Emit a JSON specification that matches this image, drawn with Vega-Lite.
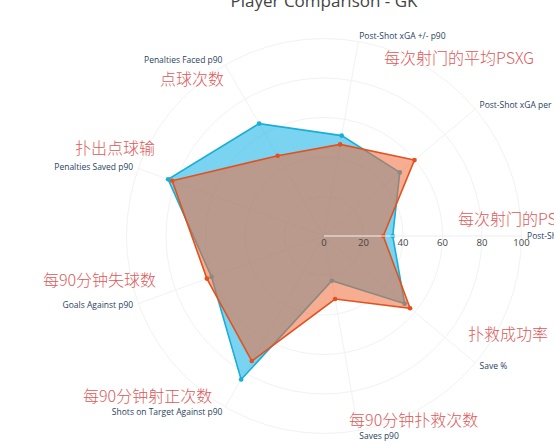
{
  "$schema": "https://vega.github.io/schema/vega-lite/v6.json",
  "width": 554,
  "height": 444,
  "padding": 0,
  "autosize": {"type": "none"},
  "background": "white",
  "config": {"view": {"stroke": null}, "font": "Open Sans"},
  "datasets": {
    "stats": [
      {"stat": "Post-Shot xGA p90", "k": 0, "player": "Player A", "value": 34.8},
      {"stat": "Post-Shot xGA per Shot", "k": 1, "player": "Player A", "value": 50.1},
      {"stat": "Post-Shot xGA +/- p90", "k": 2, "player": "Player A", "value": 51.6},
      {"stat": "Penalties Faced p90", "k": 3, "player": "Player A", "value": 65.7},
      {"stat": "Penalties Saved p90", "k": 4, "player": "Player A", "value": 84.0},
      {"stat": "Goals Against p90", "k": 5, "player": "Player A", "value": 60.6},
      {"stat": "Shots on Target Against p90", "k": 6, "player": "Player A", "value": 83.9},
      {"stat": "Saves p90", "k": 7, "player": "Player A", "value": 23.0},
      {"stat": "Save %", "k": 8, "player": "Player A", "value": 53.3},
      {"stat": "Post-Shot xGA p90", "k": 0, "player": "Player B", "value": 30.0},
      {"stat": "Post-Shot xGA per Shot", "k": 1, "player": "Player B", "value": 59.8},
      {"stat": "Post-Shot xGA +/- p90", "k": 2, "player": "Player B", "value": 47.1},
      {"stat": "Penalties Faced p90", "k": 3, "player": "Player B", "value": 46.9},
      {"stat": "Penalties Saved p90", "k": 4, "player": "Player B", "value": 81.8},
      {"stat": "Goals Against p90", "k": 5, "player": "Player B", "value": 63.1},
      {"stat": "Shots on Target Against p90", "k": 6, "player": "Player B", "value": 73.1},
      {"stat": "Saves p90", "k": 7, "player": "Player B", "value": 32.4},
      {"stat": "Save %", "k": 8, "player": "Player B", "value": 56.9}
    ],
    "rings": [{"r": 20}, {"r": 40}, {"r": 60}, {"r": 80}, {"r": 100}],
    "ticks": [{"r": 0}, {"r": 20}, {"r": 40}, {"r": 60}, {"r": 80}, {"r": 100}],
    "notes": [
      {"note": "每次射门的平均PSXG", "nx": 30.4, "ny": 89.6},
      {"note": "点球次数", "nx": -83.0, "ny": 79.0},
      {"note": "扑出点球输", "nx": -126.1, "ny": 44.1},
      {"note": "每90分钟失球数", "nx": -142.3, "ny": -22.8},
      {"note": "每90分钟射正次数", "nx": -122.0, "ny": -81.6},
      {"note": "每90分钟扑救次数", "nx": 12.7, "ny": -93.7},
      {"note": "扑救成功率", "nx": 72.9, "ny": -50.1},
      {"note": "每次射门的PSXG", "nx": 67.8, "ny": 8.1}
    ],
    "heading": [{"text": "Player Comparison - GK"}]
  },
  "layer": [
    {
      "data": {"name": "rings"},
      "mark": {"type": "point", "shape": "circle", "filled": false, "stroke": "#f2f2f2", "strokeWidth": 1, "opacity": 1},
      "encoding": {
        "x": {"datum": 0, "type": "quantitative", "scale": {"domain": [-164.05, 116.46], "nice": false, "zero": false}, "axis": null},
        "y": {"datum": 0, "type": "quantitative", "scale": {"domain": [-105.32, 119.49], "nice": false, "zero": false}, "axis": null},
        "size": {"field": "r", "type": "quantitative", "scale": {"type": "pow", "exponent": 2, "domain": [0, 100], "range": [0, 156025]}, "legend": null}
      }
    },
    {
      "data": {"name": "stats"},
      "transform": [
        {"filter": "datum.player == 'Player A'"},
        {"calculate": "datum.k * 2 * PI / 9", "as": "a"},
        {"calculate": "100 * cos(datum.a)", "as": "ex"},
        {"calculate": "100 * sin(datum.a)", "as": "ey"}
      ],
      "mark": {"type": "rule", "stroke": "#f2f2f2", "strokeWidth": 1},
      "encoding": {
        "x": {"field": "ex", "type": "quantitative"},
        "y": {"field": "ey", "type": "quantitative"},
        "x2": {"datum": 0},
        "y2": {"datum": 0}
      }
    },
    {
      "data": {"name": "stats"},
      "transform": [
        {"filter": "datum.player == 'Player A'"},
        {"calculate": "datum.k * 2 * PI / 9", "as": "a"},
        {"calculate": "datum.value * cos(datum.a)", "as": "px"},
        {"calculate": "datum.value * sin(datum.a)", "as": "py"}
      ],
      "layer": [
        {
          "mark": {"type": "line", "interpolate": "linear-closed", "fill": "#22B8E8", "fillOpacity": 0.6, "stroke": "#19AED6", "strokeWidth": 1.6},
          "encoding": {
            "x": {"field": "px", "type": "quantitative"},
            "y": {"field": "py", "type": "quantitative"},
            "order": {"field": "k", "type": "quantitative"}
          }
        },
        {
          "mark": {"type": "point", "filled": true, "color": "#19AED6", "size": 22, "opacity": 1},
          "encoding": {
            "x": {"field": "px", "type": "quantitative"},
            "y": {"field": "py", "type": "quantitative"}
          }
        }
      ]
    },
    {
      "data": {"name": "stats"},
      "transform": [
        {"filter": "datum.player == 'Player B'"},
        {"calculate": "datum.k * 2 * PI / 9", "as": "a"},
        {"calculate": "datum.value * cos(datum.a)", "as": "px"},
        {"calculate": "datum.value * sin(datum.a)", "as": "py"}
      ],
      "layer": [
        {
          "mark": {"type": "line", "interpolate": "linear-closed", "fill": "#EE6A38", "fillOpacity": 0.55, "stroke": "#E2521F", "strokeWidth": 1.6},
          "encoding": {
            "x": {"field": "px", "type": "quantitative"},
            "y": {"field": "py", "type": "quantitative"},
            "order": {"field": "k", "type": "quantitative"}
          }
        },
        {
          "mark": {"type": "point", "filled": true, "color": "#E2521F", "size": 22, "opacity": 1},
          "encoding": {
            "x": {"field": "px", "type": "quantitative"},
            "y": {"field": "py", "type": "quantitative"}
          }
        }
      ]
    },
    {
      "data": {"name": "ticks"},
      "transform": [{"filter": "datum.r == 100"}],
      "mark": {"type": "rule", "stroke": "#f4f4f4", "strokeWidth": 1.2},
      "encoding": {
        "x": {"field": "r", "type": "quantitative"},
        "x2": {"datum": 0},
        "y": {"datum": 0, "type": "quantitative"}
      }
    },
    {
      "data": {"name": "ticks"},
      "mark": {"type": "text", "fontSize": 9.5, "color": "#444", "align": "center", "baseline": "middle", "dy": 7},
      "encoding": {
        "x": {"field": "r", "type": "quantitative"},
        "y": {"datum": 0, "type": "quantitative"},
        "text": {"field": "r", "type": "quantitative"}
      }
    },
    {
      "data": {"name": "stats"},
      "transform": [
        {"filter": "datum.player == 'Player A'"},
        {"calculate": "datum.k * 2 * PI / 9", "as": "a"},
        {"calculate": "102.8 * cos(datum.a)", "as": "lx"},
        {"calculate": "102.8 * sin(datum.a)", "as": "ly"}
      ],
      "layer": [
        {
          "transform": [{"filter": "cos(datum.a) > 0.01"}],
          "mark": {"type": "text", "fontSize": 8.5, "color": "#2a3f5f", "align": "left", "baseline": "middle"},
          "encoding": {
            "x": {"field": "lx", "type": "quantitative"},
            "y": {"field": "ly", "type": "quantitative"},
            "text": {"field": "stat"}
          }
        },
        {
          "transform": [{"filter": "cos(datum.a) <= 0.01"}],
          "mark": {"type": "text", "fontSize": 8.5, "color": "#2a3f5f", "align": "right", "baseline": "middle"},
          "encoding": {
            "x": {"field": "lx", "type": "quantitative"},
            "y": {"field": "ly", "type": "quantitative"},
            "text": {"field": "stat"}
          }
        }
      ]
    },
    {
      "data": {"name": "notes"},
      "mark": {"type": "text", "font": "Noto Sans CJK SC", "fontWeight": 300, "fontSize": 16, "color": "#dc5a5a", "align": "left", "baseline": "middle"},
      "encoding": {
        "x": {"field": "nx", "type": "quantitative"},
        "y": {"field": "ny", "type": "quantitative"},
        "text": {"field": "note"}
      }
    },
    {
      "data": {"name": "heading"},
      "mark": {"type": "text", "fontSize": 17, "color": "#444", "align": "center", "baseline": "alphabetic"},
      "encoding": {
        "x": {"datum": 0, "type": "quantitative"},
        "y": {"datum": 115.9, "type": "quantitative"},
        "text": {"field": "text"}
      }
    }
  ]
}
